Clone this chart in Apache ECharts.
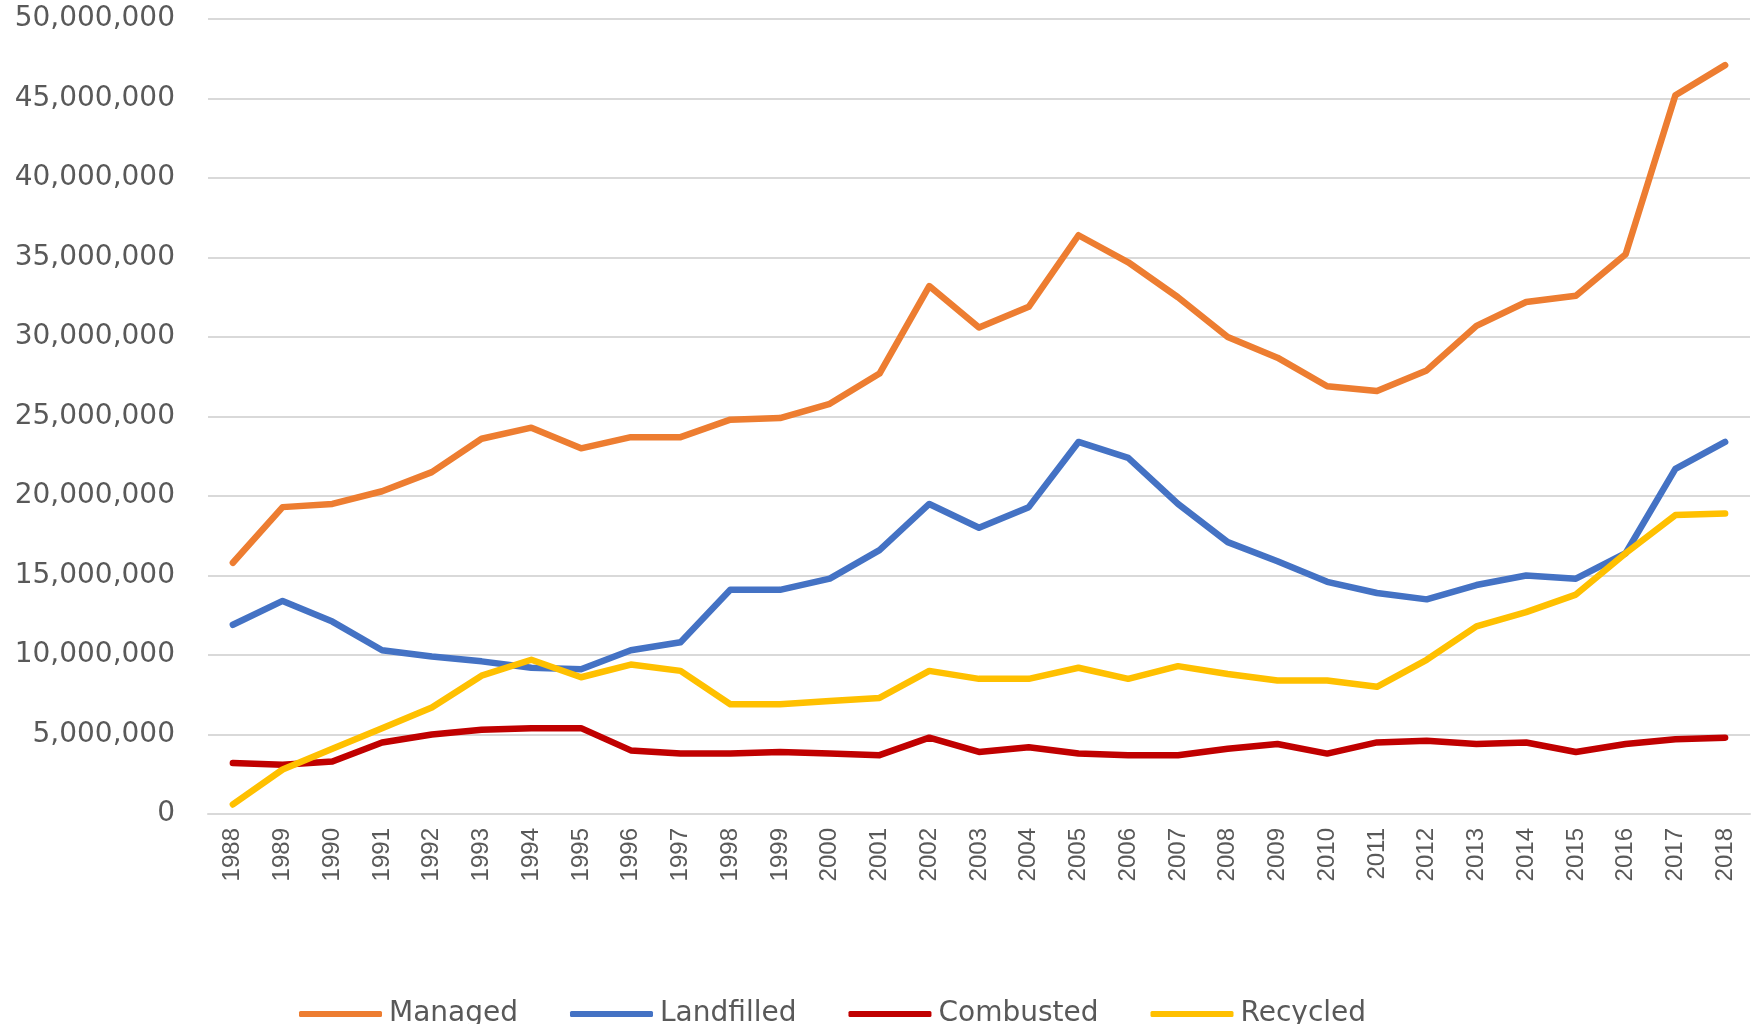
<!DOCTYPE html>
<html>
<head>
<meta charset="utf-8">
<script src="https://cdn.jsdelivr.net/npm/echarts@6/dist/echarts.min.js"></script>
<style>
  html, body { margin: 0; padding: 0; background: #fff; }
  #chart { width: 1761px; height: 1024px; }
</style>
</head>
<body>
<div id="chart"></div>
<script>
const years = ['1988', '1989', '1990', '1991', '1992', '1993', '1994', '1995', '1996', '1997',
  '1998', '1999', '2000', '2001', '2002', '2003', '2004', '2005', '2006', '2007',
  '2008', '2009', '2010', '2011', '2012', '2013', '2014', '2015', '2016', '2017', '2018']

const managed = [15800000, 19300000, 19500000, 20300000, 21500000, 23600000, 24300000, 23000000, 23700000, 23700000,
  24800000, 24900000, 25800000, 27700000, 33200000, 30600000, 31900000, 36400000, 34700000, 32500000,
  30000000, 28700000, 26900000, 26600000, 27900000, 30700000, 32200000, 32600000, 35200000, 45200000, 47100000]

const landfilled = [11900000, 13400000, 12100000, 10300000, 9900000, 9600000, 9200000, 9100000, 10300000, 10800000,
  14100000, 14100000, 14800000, 16600000, 19500000, 18000000, 19300000, 23400000, 22400000, 19500000,
  17100000, 15900000, 14600000, 13900000, 13500000, 14400000, 15000000, 14800000, 16400000, 21700000, 23400000]

const combusted = [3200000, 3100000, 3300000, 4500000, 5000000, 5300000, 5400000, 5400000, 4000000, 3800000,
  3800000, 3900000, 3800000, 3700000, 4800000, 3900000, 4200000, 3800000, 3700000, 3700000,
  4100000, 4400000, 3800000, 4500000, 4600000, 4400000, 4500000, 3900000, 4400000, 4700000, 4800000]

const recycled = [600000, 2800000, 4100000, 5400000, 6700000, 8700000, 9700000, 8600000, 9400000, 9000000,
  6900000, 6900000, 7100000, 7300000, 9000000, 8500000, 8500000, 9200000, 8500000, 9300000,
  8800000, 8400000, 8400000, 8000000, 9700000, 11800000, 12700000, 13800000, 16400000, 18800000, 18900000]

const chart = echarts.init(document.getElementById('chart'))

function line(name, data, color) {
  return {
    name,
    type: 'line',
    data,
    symbol: 'none',
    color,
    lineStyle: { width: 6.5, color, cap: 'round', join: 'round' }
  }
}

const option = {
  animation: false,
  grid: { left: 208, right: 11, top: 19, bottom: 210 },
  legend: {
    data: ['Managed', 'Landfilled', 'Combusted', 'Recycled'],
    left: 294,
    top: 995,
    icon: 'roundRect',
    itemWidth: 83,
    itemHeight: 6,
    itemGap: 52,
    textStyle: { fontFamily: 'DejaVu Sans', fontSize: 28, color: '#595959', padding: [0, 0, 0, 2] }
  },
  xAxis: {
    type: 'category',
    data: years,
    boundaryGap: true,
    axisLine: { lineStyle: { color: '#d9d9d9', width: 2 } },
    axisTick: { show: false },
    axisLabel: {
      rotate: 90,
      margin: 14,
      interval: 0,
      fontFamily: 'Liberation Sans Narrow, Liberation Sans',
      fontSize: 24,
      color: '#595959'
    }
  },
  yAxis: {
    type: 'value',
    min: 0,
    max: 50000000,
    interval: 5000000,
    axisLine: { show: false },
    axisTick: { show: false },
    splitLine: { lineStyle: { color: '#d9d9d9', width: 2 } },
    axisLabel: {
      margin: 33,
      fontFamily: 'DejaVu Sans',
      fontSize: 28,
      color: '#595959',
      formatter: v => v.toLocaleString('en-US')
    }
  },
  series: [
    line('Managed', managed, '#ED7D31'),
    line('Landfilled', landfilled, '#4472C4'),
    line('Combusted', combusted, '#C00000'),
    line('Recycled', recycled, '#FFC000')
  ]
}

chart.setOption(option)
</script>
</body>
</html>
